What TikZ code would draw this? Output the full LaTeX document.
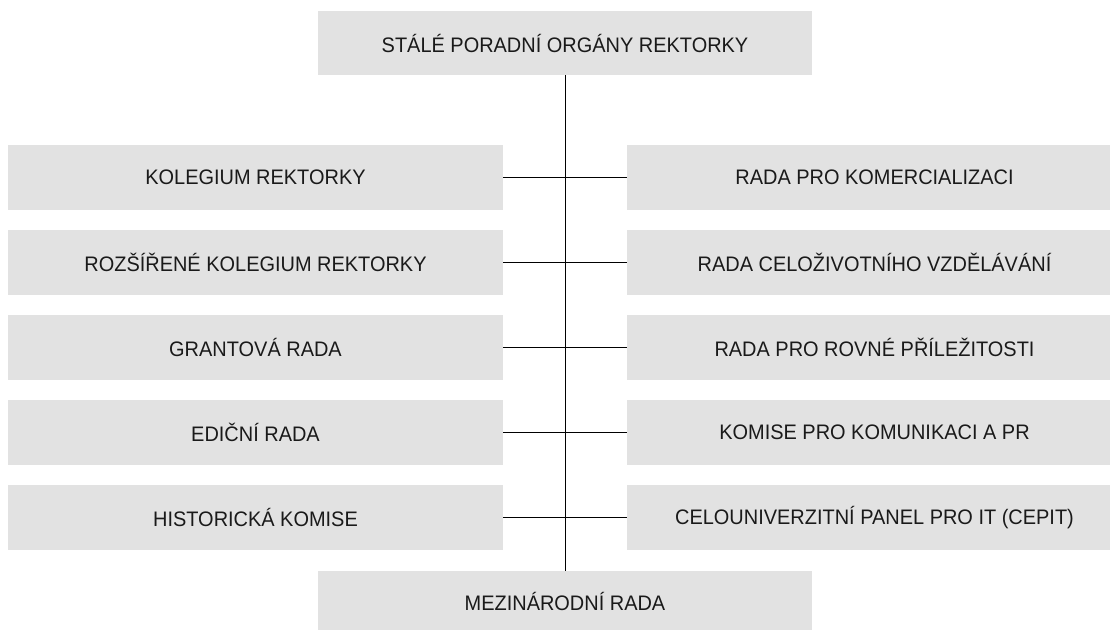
\documentclass[tikz,border=0pt]{standalone}
\usepackage{fontspec}
\setmainfont[FakeStretch=0.95]{Liberation Sans}
\definecolor{boxgray}{HTML}{E2E2E2}
\definecolor{txt}{HTML}{1A1A1A}
\begin{document}
\begin{tikzpicture}[x=1pt,y=-1pt,
  orgbox/.style={fill=boxgray, draw=none, inner sep=0pt, text=txt,
    font=\fontsize{21}{24}\selectfont},
  sidebox/.style={orgbox, minimum height=65pt, minimum width=495pt},
  link/.style={draw=black, line width=1pt}]
\useasboundingbox (0,0) rectangle (1110,629);
\begin{scope}
\clip (0,0) rectangle (1110,629);
\node[orgbox, minimum width=494pt, minimum height=64pt] (top) at (565,43) {STÁLÉ PORADNÍ ORGÁNY REKTORKY};
\node[orgbox, minimum width=494pt, minimum height=60pt] (bot) at (565,601) {MEZINÁRODNÍ RADA};
\node[sidebox] (l1) at (255.5,177.5) {KOLEGIUM REKTORKY};
\node[sidebox] (l2) at (255.5,262.5) {ROZŠÍŘENÉ KOLEGIUM REKTORKY};
\node[sidebox] (l3) at (255.5,347.5) {GRANTOVÁ RADA};
\node[sidebox] (l4) at (255.5,432.5) {EDIČNÍ RADA};
\node[sidebox] (l5) at (255.5,517.5) {HISTORICKÁ KOMISE};
\node[sidebox] (r1) at (874.5,177.5) {RADA PRO KOMERCIALIZACI};
\node[sidebox] (r2) at (874.5,262.5) {RADA CELOŽIVOTNÍHO VZDĚLÁVÁNÍ};
\node[sidebox] (r3) at (874.5,347.5) {RADA PRO ROVNÉ PŘÍLEŽITOSTI};
\node[sidebox] (r4) at (874.5,432.5) {KOMISE PRO KOMUNIKACI A PR};
\node[sidebox] (r5) at (874.5,517.5) {CELOUNIVERZITNÍ PANEL PRO IT (CEPIT)};
\draw[link] (top.south) -- (bot.north);
\foreach \i in {1,...,5} {
  \draw[link] (l\i.east) -- (r\i.west);
}
\end{scope}
\end{tikzpicture}
\end{document}
